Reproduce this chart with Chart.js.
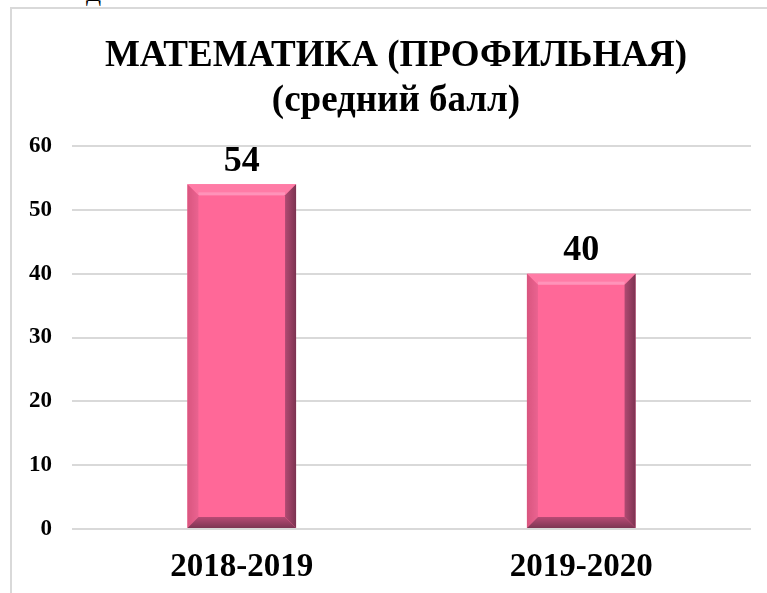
<!DOCTYPE html>
<html>
<head>
<meta charset="utf-8">
<script src="https://cdn.jsdelivr.net/npm/chart.js@4"></script>
<style>
  html, body { margin: 0; padding: 0; background: #fff; overflow: hidden; }
  body { width: 767px; height: 593px; position: relative; }
  #cut { position: absolute; left: 86px; top: -19px; font: 22px "Liberation Serif", serif; color: #000; }
  #frame {
    position: absolute; left: 10px; top: 7px; width: 800px; height: 620px;
    border-left: 2px solid #d9d9d9; border-top: 2px solid #d9d9d9;
  }
  #wrap { position: absolute; left: 11px; top: 9px; width: 756px; height: 584px; }
</style>
</head>
<body>
<div id="cut">Д</div>
<div id="frame"></div>
<div id="wrap"><canvas id="chart"></canvas></div>
<script>
const titleLines = ["МАТЕМАТИКА (ПРОФИЛЬНАЯ)", "(средний балл)"];
const years = ["2018-2019", "2019-2020"];
const avgScore = [54, 40];
const yTicks = [0, 10, 20, 30, 40, 50, 60];

const FONT = '"Liberation Serif", "Times New Roman", serif';

// bevelled bars like the office chart
const bevelPlugin = {
  id: "bevel",
  afterDatasetsDraw(chart) {
    const ctx = chart.ctx;
    chart.getDatasetMeta(0).data.forEach(bar => {
      const l = bar.x - bar.width / 2, r = bar.x + bar.width / 2;
      const t = bar.y, b = bar.base;
      const k = 11;
      ctx.save();
      // top
      ctx.fillStyle = "#ff7ba6";
      ctx.beginPath();
      ctx.moveTo(l, t); ctx.lineTo(r, t); ctx.lineTo(r - k, t + k); ctx.lineTo(l + k, t + k);
      ctx.fill();
      ctx.fillStyle = "#ff93b9";
      ctx.fillRect(l + k, t + k - 3, r - l - 2 * k, 3);
      // left
      let g = ctx.createLinearGradient(l, 0, l + k, 0);
      g.addColorStop(0, "#d9557f"); g.addColorStop(1, "#ea6390");
      ctx.fillStyle = g;
      ctx.beginPath();
      ctx.moveTo(l, t); ctx.lineTo(l + k, t + k); ctx.lineTo(l + k, b - k); ctx.lineTo(l, b);
      ctx.fill();
      // right
      g = ctx.createLinearGradient(r - k, 0, r, 0);
      g.addColorStop(0, "#b04a72"); g.addColorStop(1, "#7c3351");
      ctx.fillStyle = g;
      ctx.beginPath();
      ctx.moveTo(r, t); ctx.lineTo(r - k, t + k); ctx.lineTo(r - k, b - k); ctx.lineTo(r, b);
      ctx.fill();
      // bottom
      g = ctx.createLinearGradient(0, b - k, 0, b);
      g.addColorStop(0, "#b84b75"); g.addColorStop(1, "#7d3553");
      ctx.fillStyle = g;
      ctx.beginPath();
      ctx.moveTo(l, b); ctx.lineTo(l + k, b - k); ctx.lineTo(r - k, b - k); ctx.lineTo(r, b);
      ctx.fill();
      ctx.restore();
    });
  }
};

const valueLabels = {
  id: "valueLabels",
  afterDatasetsDraw(chart) {
    const ctx = chart.ctx;
    ctx.save();
    ctx.font = "bold 36px " + FONT;
    ctx.fillStyle = "#000";
    ctx.textAlign = "center";
    ctx.textBaseline = "middle";
    chart.getDatasetMeta(0).data.forEach((bar, i) => {
      ctx.fillText(String(avgScore[i]), bar.x, bar.y - 23);
    });
    ctx.restore();
  }
};

// title sits a bit right of the canvas centre in the original
const titleText = {
  id: "titleText",
  afterDraw(chart) {
    const ctx = chart.ctx;
    ctx.save();
    ctx.font = "bold 37px " + FONT;
    ctx.fillStyle = "#000";
    ctx.textAlign = "center";
    ctx.textBaseline = "middle";
    ctx.fillText(titleLines[0], 385, 47);
    ctx.fillText(titleLines[1], 385, 92);
    ctx.restore();
  }
};

new Chart(document.getElementById("chart"), {
  type: "bar",
  data: {
    labels: years,
    datasets: [{
      data: avgScore,
      backgroundColor: "#ff6898",
      borderWidth: 0,
      barPercentage: 0.32,
      categoryPercentage: 1
    }]
  },
  options: {
    responsive: true,
    maintainAspectRatio: false,
    animation: false,
    layout: { padding: { left: 0, right: 16, top: 137, bottom: 0 } },
    plugins: {
      legend: { display: false },
      tooltip: { enabled: false },
      title: { display: false }
    },
    scales: {
      x: {
        afterFit(scale) { scale.height = 64; },
        grid: { display: false, drawTicks: false },
        border: { display: false },
        ticks: { color: "#000", padding: 19, font: { family: FONT, size: 33, weight: "bold" } }
      },
      y: {
        min: 0, max: 60,
        afterFit(scale) { scale.width = 61; },
        afterBuildTicks(scale) { scale.ticks = yTicks.map(v => ({ value: v })); },
        grid: { color: "#d9d9d9", lineWidth: 2, drawTicks: false },
        border: { display: false },
        ticks: { color: "#000", padding: 20, font: { family: FONT, size: 23, weight: "bold" } }
      }
    }
  },
  plugins: [bevelPlugin, valueLabels, titleText]
});
</script>
</body>
</html>
